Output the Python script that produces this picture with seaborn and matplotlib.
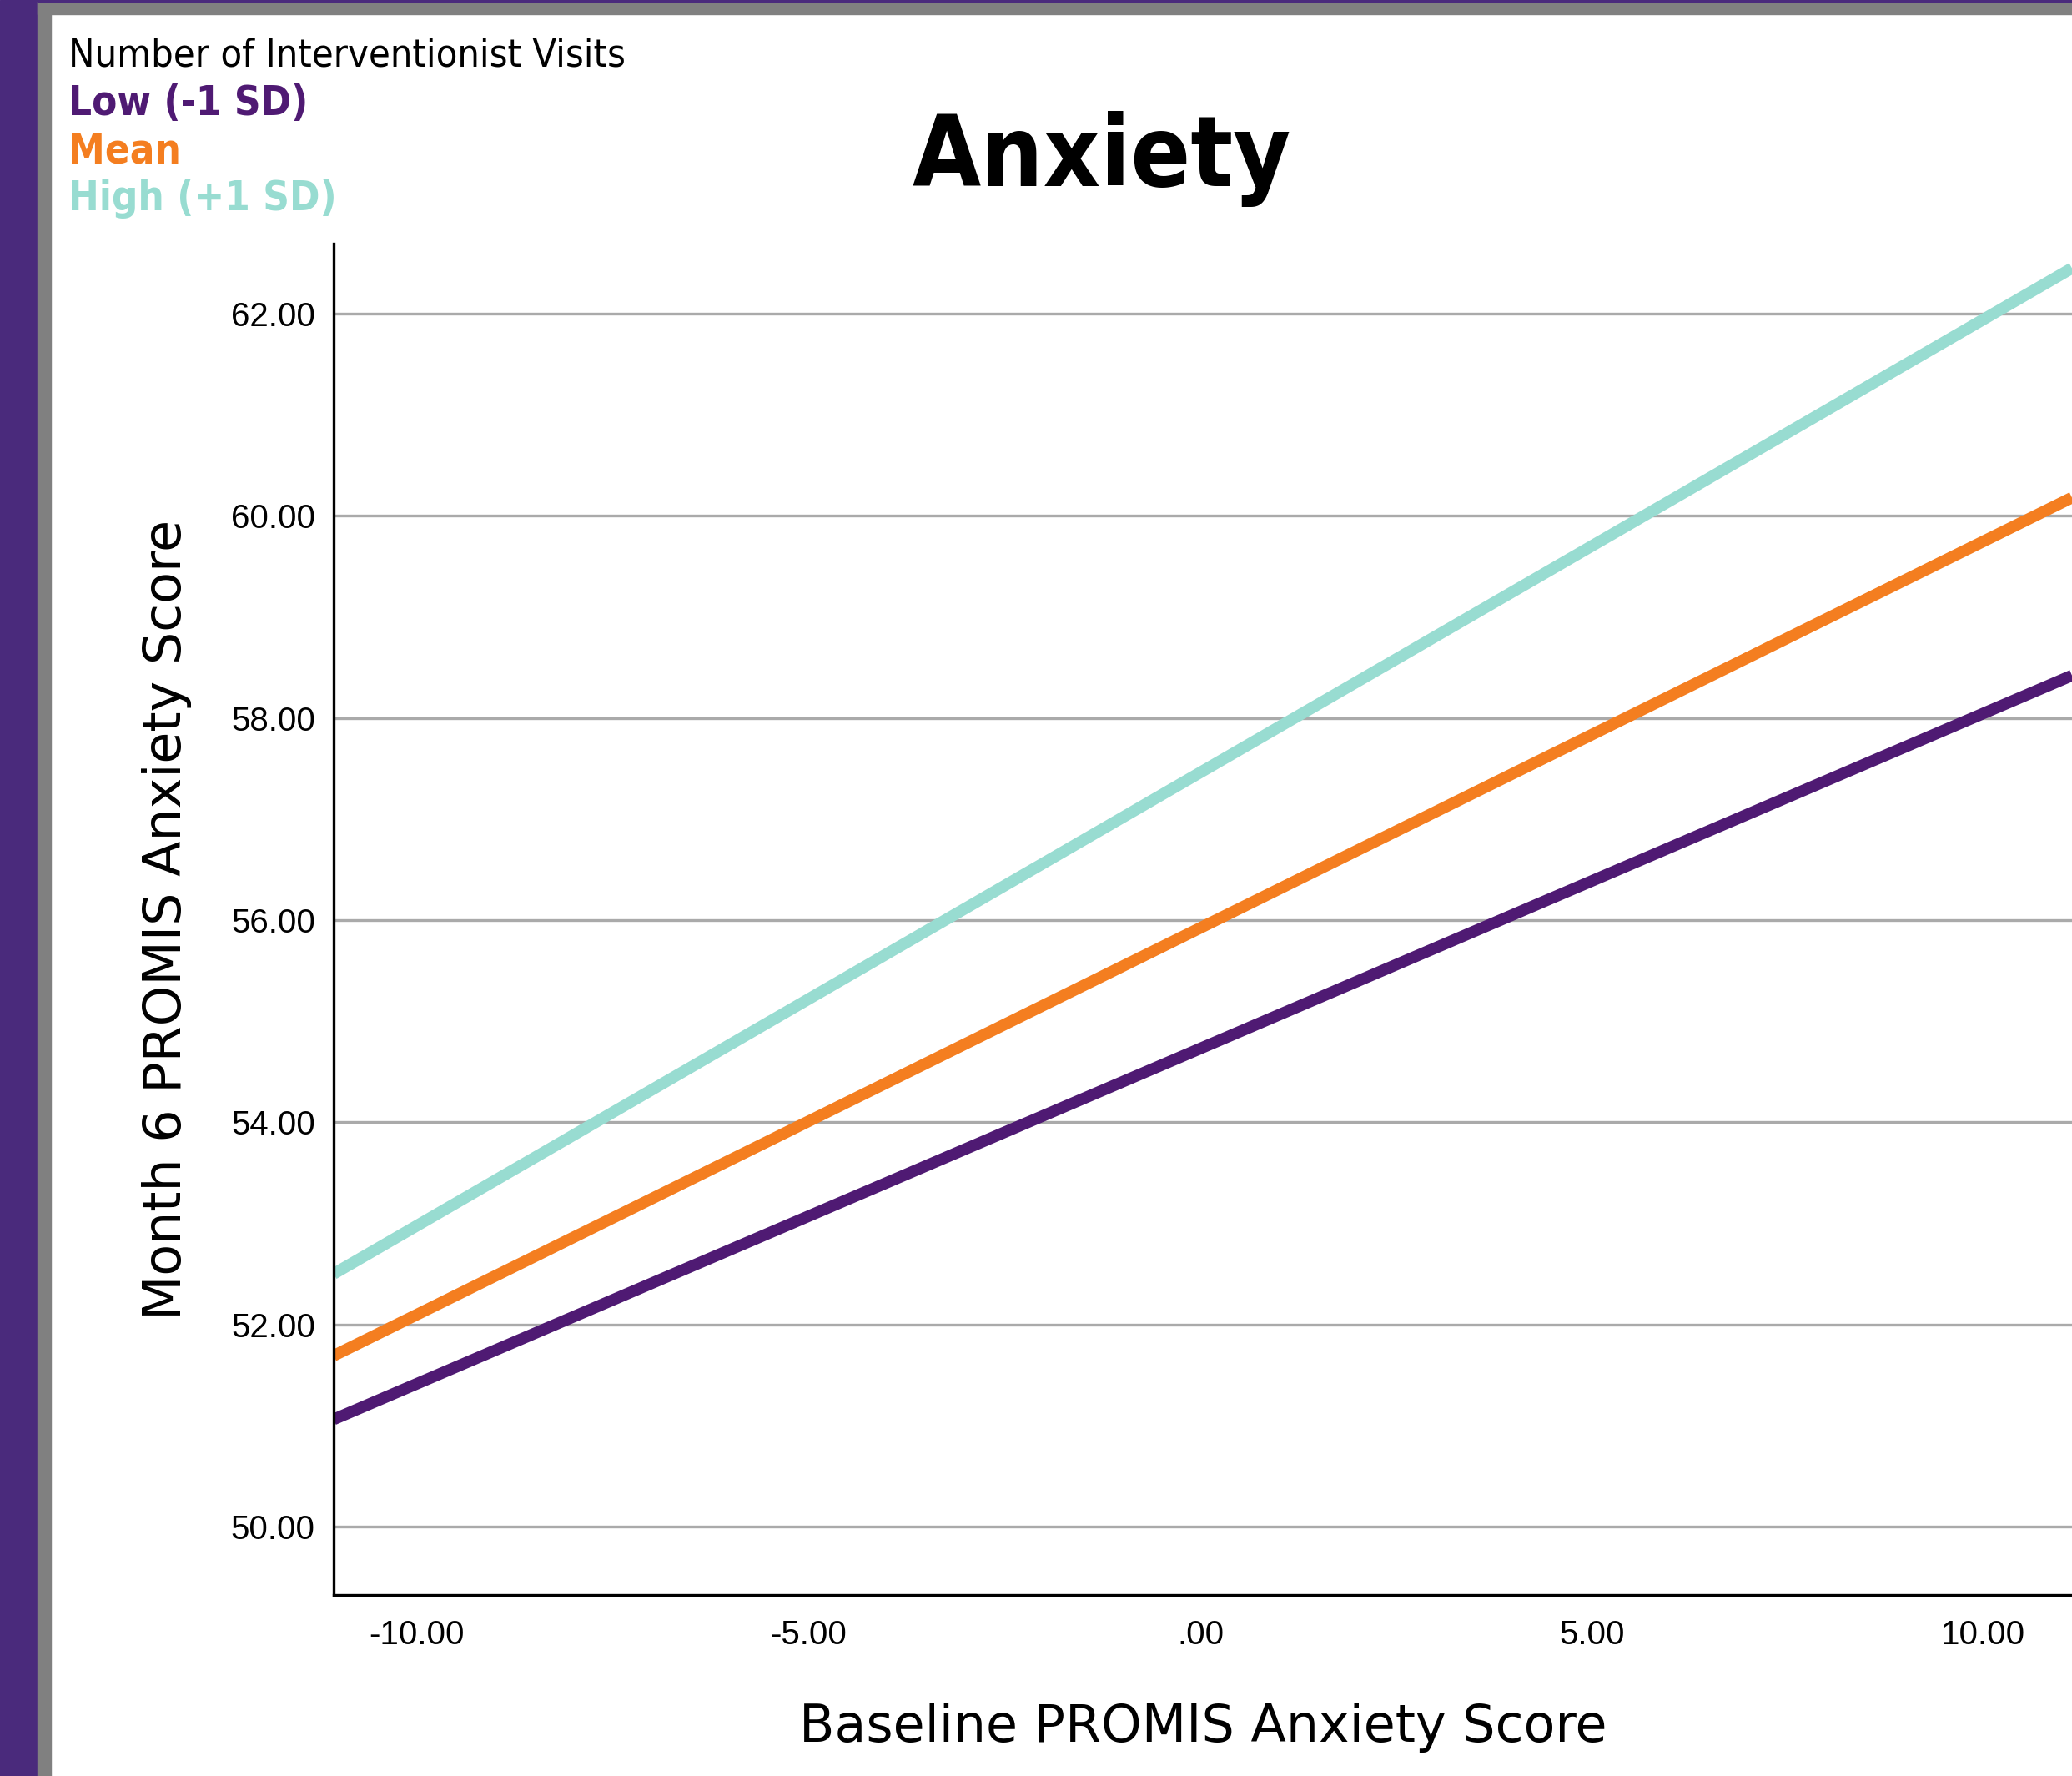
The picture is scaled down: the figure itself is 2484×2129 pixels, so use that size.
import numpy as np
import pandas as pd
import seaborn as sb
import matplotlib.pyplot as plt
from matplotlib.patches import Rectangle

# values (x range spans the visible plot area)
baseline = [-11.065, 11.13]
low_sd = [51.06, 58.42]
mean_visits = [51.69, 60.18]
high_sd = [52.50, 62.45]

groups = ["Low (-1 SD)", "Mean", "High (+1 SD)"]
colors = ["#4f1a73", "#f47e20", "#98dcd1"]

xticks = [-10, -5, 0, 5, 10]
xticklabels = ["-10.00", "-5.00", ".00", "5.00", "10.00"]
yticks = [50, 52, 54, 56, 58, 60, 62]
yticklabels = ["50.00", "52.00", "54.00", "56.00", "58.00", "60.00", "62.00"]

df = pd.DataFrame({
    "Baseline": baseline * 3,
    "Month6": low_sd + mean_visits + high_sd,
    "Visits": np.repeat(groups, len(baseline)),
})

sb.set_style("white")
plt.rcParams['font.family'] = ['DejaVu Sans']
plt.rcParams['text.color'] = 'black'
plt.rcParams['axes.labelcolor'] = 'black'
plt.rcParams['xtick.color'] = 'black'
plt.rcParams['ytick.color'] = 'black'

W, H = 2484, 2129
fig = plt.figure(figsize=(W / 100, H / 100), dpi=100, facecolor="white")
ax = fig.add_axes([400 / W, (H - 1912) / H, (W - 400) / W, (1912 - 292) / H])

sb.lineplot(data=df, x="Baseline", y="Month6", hue="Visits", hue_order=groups,
            palette=colors, linewidth=10, legend=False, errorbar=None,
            solid_capstyle="butt", ax=ax)

ax.set_xlim(-11.065, 11.13)
ax.set_ylim(49.323, 62.693)
ax.set_xticks(xticks)
ax.set_xticklabels(xticklabels, fontfamily="Liberation Sans", fontsize=29)
ax.set_yticks(yticks)
ax.set_yticklabels(yticklabels, fontfamily="Liberation Sans", fontsize=29)
ax.tick_params(axis="x", length=0, pad=21)
ax.tick_params(axis="y", length=0, pad=16)

ax.grid(axis="y", color="#aaaaaa", linewidth=2.4)
ax.grid(axis="x", visible=False)
ax.set_axisbelow(True)
for side in ["top", "right"]:
    ax.spines[side].set_visible(False)
for side in ["left", "bottom"]:
    ax.spines[side].set_color("black")
    ax.spines[side].set_linewidth(2.4)

ax.set_xlabel("Baseline PROMIS Anxiety Score", fontsize=44.6)
ax.set_ylabel("Month 6 PROMIS Anxiety Score", fontsize=44.6)
ax.xaxis.set_label_coords(0.5, -0.0796)
ax.yaxis.set_label_coords(-0.0816, 0.5)

fig.text(1321 / W, 1 - 223 / H, "Anxiety", ha="center", va="baseline",
         fontsize=85, fontweight="bold", fontstretch="condensed")

legend_rows = [("Number of Interventionist Visits", "black", "normal", 33.7)] + \
    [(g, c, "bold", 35.3) for g, c in zip(groups, colors)]
baselines_px = [80, 138, 196, 252]
for (txt, col, wt, fs), b in zip(legend_rows, baselines_px):
    fig.text(82 / W, 1 - b / H, txt, ha="left", va="baseline", color=col,
             fontsize=fs, fontweight=wt, fontstretch="condensed")

# window frame on the left / top
fig.patches.append(Rectangle((0, 0), 45 / W, 1, transform=fig.transFigure,
                             color="#4a2a7c", zorder=0))
fig.patches.append(Rectangle((45 / W, 0), 16 / W, (H - 2) / H, transform=fig.transFigure,
                             color="#808080", zorder=0))
fig.patches.append(Rectangle((45 / W, (H - 17) / H), 1, 15 / H, transform=fig.transFigure,
                             color="#808080", zorder=0))
fig.patches.append(Rectangle((45 / W, (H - 2) / H), 1, 2 / H, transform=fig.transFigure,
                             color="#4a2a7c", zorder=0))

fig.savefig("out.png", dpi=100)
